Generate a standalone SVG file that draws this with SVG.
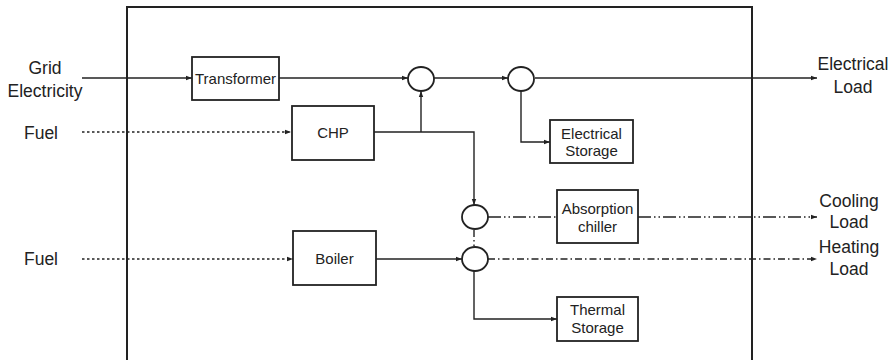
<svg xmlns="http://www.w3.org/2000/svg" width="896" height="360" viewBox="0 0 896 360">
<defs>
<marker id="ah" viewBox="0 0 6 6" refX="6" refY="3" markerWidth="6" markerHeight="6" markerUnits="userSpaceOnUse" orient="auto">
<path d="M0,0.8 L6,3 L0,5.2 z" fill="#222"/>
</marker>
<style>
.frame{fill:none;stroke:#222;stroke-width:2}
.box{fill:#fff;stroke:#222;stroke-width:1.8}
.node{fill:#fff;stroke:#222;stroke-width:1.8}
.ln{fill:none;stroke:#222;stroke-width:1.4}
.dot{fill:none;stroke:#222;stroke-width:1.4;stroke-dasharray:2.5 2.5}
.dd{fill:none;stroke:#222;stroke-width:1.4;stroke-dasharray:13 3 1.5 3 1.5 3}
.dsh{fill:none;stroke:#222;stroke-width:1.4;stroke-dasharray:7 3 1.5 3}
.t{font-family:"Liberation Sans",Arial,sans-serif;fill:#222;text-anchor:middle}
.big{font-size:17.5px}
.sm{font-size:15px}
</style>
</defs>
<rect class="frame" x="127" y="7" width="625" height="360"/>
<g id="connectors">
<line class="ln" x1="82" y1="78" x2="192" y2="78" marker-end="url(#ah)"/>
<line class="ln" x1="279" y1="78" x2="408" y2="78" marker-end="url(#ah)"/>
<line class="ln" x1="434" y1="78" x2="508" y2="78" marker-end="url(#ah)"/>
<line class="ln" x1="535" y1="78" x2="817" y2="78" marker-end="url(#ah)"/>
<line class="dot" x1="82" y1="132" x2="291" y2="132" marker-end="url(#ah)"/>
<polyline class="ln" points="374,132 474,132 474,205" marker-end="url(#ah)"/>
<line class="ln" x1="421" y1="132" x2="421" y2="91" marker-end="url(#ah)"/>
<polyline class="ln" points="521,91 521,142 550,142" marker-start="url(#ah)" marker-end="url(#ah)"/>
<line class="dot" x1="82" y1="259" x2="293" y2="259" marker-end="url(#ah)"/>
<line class="ln" x1="376" y1="259" x2="462" y2="259" marker-end="url(#ah)"/>
<line class="dsh" x1="474" y1="230" x2="474" y2="246"/>
<line class="dd" x1="488" y1="217" x2="557" y2="217"/>
<line class="dd" x1="638" y1="217" x2="817" y2="217" marker-end="url(#ah)"/>
<line class="dsh" x1="488" y1="259" x2="817" y2="259" marker-end="url(#ah)"/>
<polyline class="ln" points="474,271 474,319 557,319" marker-start="url(#ah)" marker-end="url(#ah)"/>
</g>
<g id="transformer"><rect class="box" x="192" y="57" width="87" height="43"/><text class="t sm" x="235.5" y="84">Transformer</text></g>
<g id="chp"><rect class="box" x="292" y="106" width="82" height="54"/><text class="t sm" x="333" y="138">CHP</text></g>
<g id="boiler"><rect class="box" x="293" y="231" width="83" height="54"/><text class="t sm" x="334.5" y="264">Boiler</text></g>
<g id="elec-storage"><rect class="box" x="550" y="120" width="83" height="43"/><text class="t sm" x="591.5" y="139">Electrical</text><text class="t sm" x="591.5" y="156">Storage</text></g>
<g id="absorption-chiller"><rect class="box" x="557" y="190" width="81" height="53"/><text class="t sm" x="597.5" y="214">Absorption</text><text class="t sm" x="597.5" y="232">chiller</text></g>
<g id="thermal-storage"><rect class="box" x="557" y="297" width="81" height="44"/><text class="t sm" x="597.5" y="315">Thermal</text><text class="t sm" x="597.5" y="333">Storage</text></g>
<g id="bus1"><ellipse class="node" cx="421" cy="79" rx="13" ry="12"/></g>
<g id="bus2"><ellipse class="node" cx="521" cy="79" rx="13" ry="12"/></g>
<g id="bus3"><ellipse class="node" cx="475" cy="217" rx="13" ry="12"/></g>
<g id="bus4"><ellipse class="node" cx="475" cy="259" rx="13" ry="12"/></g>
<g id="grid-label"><text class="t big" x="45" y="74">Grid</text><text class="t big" x="45" y="97">Electricity</text></g>
<g id="fuel1-label"><text class="t big" x="41" y="139">Fuel</text></g>
<g id="fuel2-label"><text class="t big" x="41" y="265">Fuel</text></g>
<g id="elec-load-label"><text class="t big" x="853" y="70">Electrical</text><text class="t big" x="853" y="93">Load</text></g>
<g id="cooling-label"><text class="t big" x="849" y="207">Cooling</text><text class="t big" x="849" y="228">Load</text></g>
<g id="heating-label"><text class="t big" x="849" y="253">Heating</text><text class="t big" x="849" y="275">Load</text></g>
</svg>
